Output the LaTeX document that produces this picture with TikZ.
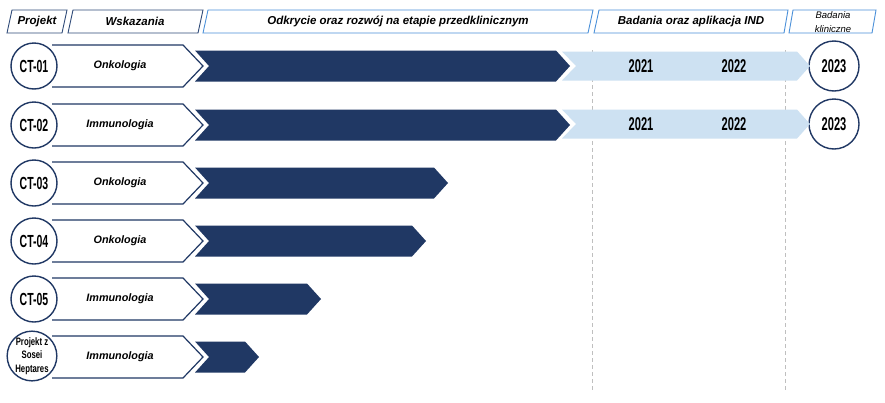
\documentclass[tikz,border=0pt]{standalone}
\usepackage{fontspec}
\setmainfont{Liberation Sans}
\newfontfamily\condfont[FakeStretch=0.6]{Liberation Sans}
\newfontfamily\condsmall[FakeStretch=0.72]{Liberation Sans}
\definecolor{navy}{HTML}{203864}
\definecolor{lblue}{HTML}{CDE1F2}
\definecolor{hblue}{HTML}{4A90D9}
\definecolor{hnavy}{HTML}{2F4A78}
\definecolor{guidegray}{HTML}{BFBFBF}
\begin{document}
\begin{tikzpicture}[x=1pt,y=-1pt,
  hdrnavy/.style={draw=hnavy,line width=0.9pt,fill=white},
  hdrblue/.style={draw=hblue,line width=0.9pt,fill=white},
  hdrtext/.style={font=\fontsize{11.5}{13}\selectfont\bfseries\itshape,inner sep=0pt},
  klintext/.style={font=\fontsize{9.5}{13.5}\selectfont\itshape,inner sep=0pt,align=center},
  idcirc/.style={circle,draw=navy,line width=1.4pt,fill=white,minimum size=46pt,inner sep=0pt,
    font=\condfont\bfseries\fontsize{17.5}{17.5}\selectfont},
  smallcirc/.style={circle,draw=navy,line width=1.4pt,fill=white,minimum size=45pt,inner sep=0pt,
    font=\condsmall\bfseries\fontsize{10.8}{13.5}\selectfont,align=center},
  yearcirc/.style={circle,draw=navy,line width=1.4pt,fill=white,minimum size=50pt,inner sep=0pt,
    font=\condfont\bfseries\fontsize{18.5}{18.5}\selectfont},
  yeartext/.style={font=\condfont\bfseries\fontsize{18.5}{18.5}\selectfont,inner sep=0pt},
  indtext/.style={font=\fontsize{10.8}{12}\selectfont\bfseries\itshape,inner sep=0pt},
  chevline/.style={draw=navy,line width=1.2pt,line join=miter},
  guide/.style={draw=guidegray,line width=0.8pt,dash pattern=on 4pt off 3pt}
]
\useasboundingbox (0,0) rectangle (885,402);
\fill[white] (0,0) rectangle (885,402);

% header
\draw[hdrnavy] (12,10) -- (67,10) -- (62,33) -- (7,33) -- cycle;
\node[hdrtext] (hproj) at (37,21.5) {Projekt};
\draw[hdrnavy] (73,10) -- (203,10) -- (198,33) -- (68,33) -- cycle;
\node[hdrtext] (hwsk) at (135,21.5) {Wskazania};
\draw[hdrblue] (208,10) -- (593,10) -- (588,33) -- (203,33) -- cycle;
\node[hdrtext] (hodk) at (398,21.5) {Odkrycie oraz rozwój na etapie przedklinicznym};
\draw[hdrblue] (599,10) -- (788,10) -- (784,33) -- (594,33) -- cycle;
\node[hdrtext] (hbad) at (691,21.5) {Badania oraz aplikacja IND};
\draw[hdrblue] (793,10) -- (876,10) -- (872,33) -- (789,33) -- cycle;
\node[klintext] (hklin) at (833,22) {Badania\\kliniczne};

% guides
\coordinate (g1top) at (592,50);
\coordinate (g1bot) at (592,391);
\coordinate (g2top) at (785,50);
\coordinate (g2bot) at (785,391);
\draw[guide] (g1top) -- (g1bot);
\draw[guide] (g2top) -- (g2bot);

% rows
\foreach \i/\y/\ind/\e in {1/66/Onkologia/556,2/125/Immunologia/556,3/183/Onkologia/434,4/241/Onkologia/412,5/299/Immunologia/307,6/357/Immunologia/245}{
  \fill[white] (52,\y-21) -- (183,\y-21) -- (203,\y) -- (183,\y+21) -- (52,\y+21) -- cycle;
  \draw[chevline] (52,\y-21) -- (183,\y-21) -- (203,\y) -- (183,\y+21) -- (52,\y+21);
  \fill[navy] (195,\y-15.5) -- (\e,\y-15.5) -- (\e+14,\y) -- (\e,\y+15.5) -- (195,\y+15.5) -- (209,\y) -- cycle;
  \node[indtext] (ind\i) at (120,\y) {\ind};
}
\node[idcirc] (id1) at (34,66) {CT-01};
\node[idcirc] (id2) at (34,125) {CT-02};
\node[idcirc] (id3) at (34,183) {CT-03};
\node[idcirc] (id4) at (34,241) {CT-04};
\node[idcirc] (id5) at (34,299) {CT-05};
\node[smallcirc] (id6) at (32,356) {Projekt z\\Sosei\\Heptares};

% IND phase
\foreach \i/\y in {1/66,2/124}{
  \node[yearcirc] (c\i) at (834,\y) {2023};
  \fill[lblue] (562,\y-14.5) -- (797,\y-14.5) -- (810,\y) -- (797,\y+14.5) -- (562,\y+14.5) -- (576,\y) -- cycle;
  \node[yeartext] (ya\i) at (641,\y) {2021};
  \node[yeartext] (yb\i) at (734,\y) {2022};
}
\end{tikzpicture}
\end{document}
